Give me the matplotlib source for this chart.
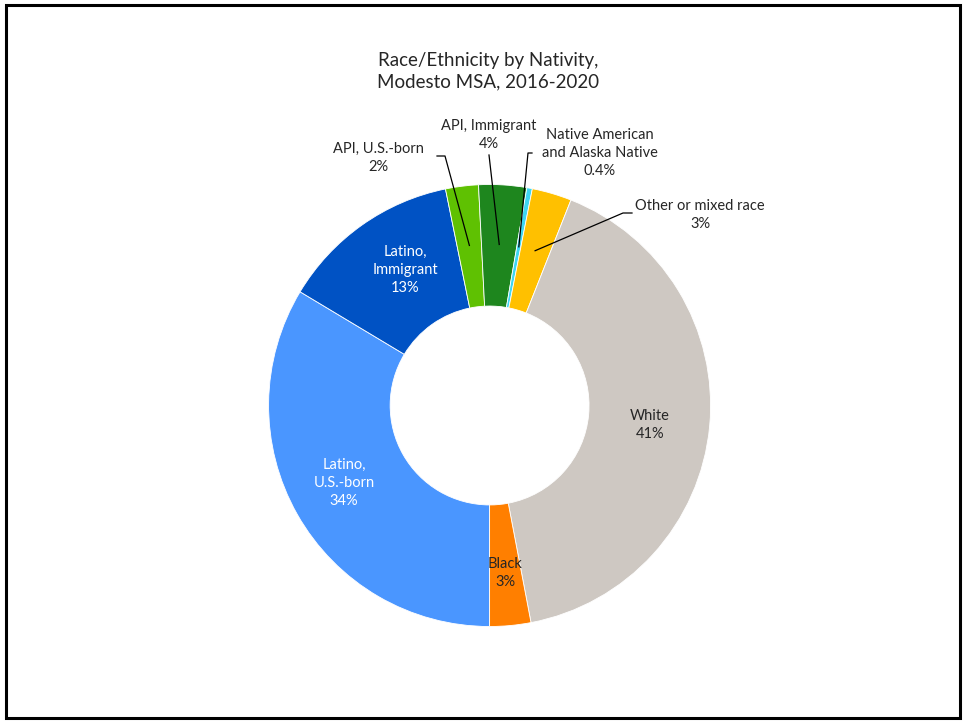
import numpy as np
import matplotlib.pyplot as plt
from matplotlib.patches import Rectangle

plt.rcParams['font.family'] = ['Lato', 'DejaVu Sans']

# data, clockwise from 6 o'clock
categories = ['Latino, U.S.-born', 'Latino, Immigrant', 'API, U.S.-born', 'API, Immigrant',
              'Native American and Alaska Native', 'Other or mixed race', 'White', 'Black']
shares = [33.6, 13.2, 2.4, 3.5, 0.4, 2.9, 41.0, 3.0]
pct_labels = ['34%', '13%', '2%', '4%', '0.4%', '3%', '41%', '3%']
names = ['Latino,\nU.S.-born', 'Latino,\nImmigrant', 'API, U.S.-born', 'API, Immigrant',
         'Native American\nand Alaska Native', 'Other or mixed race', 'White', 'Black']
colors = ['#4A96FF', '#0052C4', '#5FC102', '#1E861E', '#3ED6F2', '#FFC000', '#CEC8C2', '#FF7F00']

W, H = 966, 723
CX, CY, R = 489.6, 405.5, 221.0


def px(x, y):
    return (x - CX) / R, (CY - y) / R


fig = plt.figure(figsize=(W / 100, H / 100), dpi=100)
ax = fig.add_axes([0, 0, 1, 1])

wedges, _ = ax.pie(shares, colors=colors, startangle=270, counterclock=False,
                   radius=1.0, wedgeprops=dict(width=0.55, edgecolor='white', linewidth=0.6))

ax.set_xlim((0 - CX) / R, (W - CX) / R)
ax.set_ylim((CY - H) / R, CY / R)
ax.set_aspect('auto')
ax.axis('off')

txt = '#262626'
fs = 10.5

# label placement (pixel positions), inside or outside with leader elbow
label_pos = {
    0: (344, 483, 'white', None),
    1: (405, 270, 'white', None),
    2: (378, 158, txt, [(437, 156), (445, 156)]),
    3: (489, 135, txt, [(489, 155)]),
    4: (600, 153, txt, [(532, 153), (528, 153)]),
    5: (700, 215, txt, [(632, 213), (623, 213)]),
    6: (650, 425, txt, None),
    7: (505, 573, txt, None),
}

for i, w in enumerate(wedges):
    x, y, c, elbow = label_pos[i]
    tx, ty = px(x, y)
    ax.text(tx, ty, names[i] + '\n' + pct_labels[i], ha='center', va='center',
            color=c, fontsize=fs, linespacing=1.38)
    if elbow:
        mid = np.deg2rad((w.theta1 + w.theta2) / 2)
        pts = [px(*p) for p in elbow] + [(0.73 * np.cos(mid), 0.73 * np.sin(mid))]
        ax.plot([p[0] for p in pts], [p[1] for p in pts], color='black', lw=0.9)

fig.text(488 / W, 1 - 71 / H, 'Race/Ethnicity by Nativity,\nModesto MSA, 2016-2020',
         ha='center', va='center', fontsize=13.5, color=txt, linespacing=1.35)

fig.patches.append(Rectangle((6 / W, 1 - 718 / H), 954 / W, 713 / H, transform=fig.transFigure,
                             fill=False, edgecolor='black', linewidth=2.2))

fig.savefig('out.png', dpi=100)
